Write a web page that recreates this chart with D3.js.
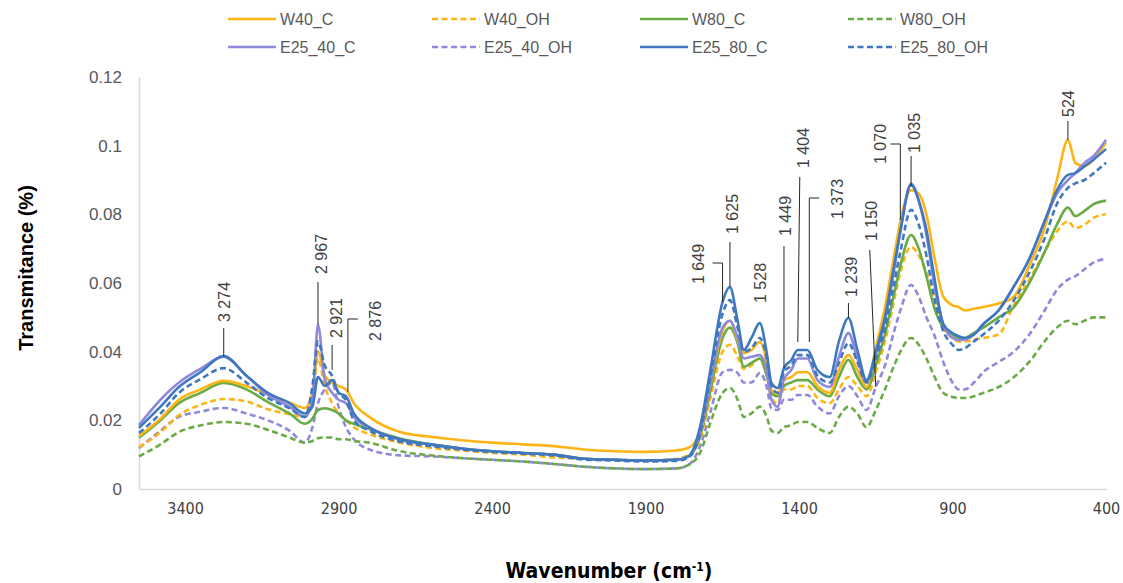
<!DOCTYPE html>
<html>
<head>
<meta charset="utf-8">
<script src="https://cdn.jsdelivr.net/npm/d3@7"></script>
<style>
  body { margin: 0; background: #fff; }
  svg { display: block; font-family: "Liberation Sans", Arial, sans-serif; }
</style>
</head>
<body>
<svg id="chart" width="1123" height="583"></svg>
<script>
// wavenumbers (cm-1) at which the spectra were read
const wavenumbers = [
  3550, 3480, 3420, 3350, 3274, 3200, 3130, 3060, 3010, 2985,
  2967, 2945, 2921, 2900, 2876, 2850, 2800, 2700, 2600, 2500,
  2400, 2300, 2200, 2100, 2000, 1900, 1800, 1760, 1720, 1690,
  1649, 1625, 1600, 1580, 1555, 1528, 1505, 1490, 1470, 1449,
  1425, 1404, 1373, 1340, 1300, 1270, 1239, 1210, 1180, 1150,
  1120, 1090, 1070, 1035, 1010, 985, 960, 930, 900, 880,
  860, 830, 800, 750, 700, 650, 600, 560, 524, 500, 470, 440, 400
];

const W40_C = [
  .0154, .0205, .0260, .0290, .0315, .0300, .0275, .0252, .0236, .0280,
  .0400, .0330, .0310, .0300, .0290, .0250, .0210, .0166, .0152, .0142,
  .0135, .0130, .0125, .0115, .0110, .0108, .0112, .0120, .0170, .0300,
  .0460, .0490, .0434, .0396, .0405, .0428, .0370, .0290, .0278, .0317,
  .0326, .0340, .0340, .0300, .0280, .0347, .0390, .0347, .0297, .0410,
  .0530, .0680, .0780, .0870, .0860, .0800, .0680, .0560, .0535, .0530,
  .0520, .0525, .0530, .0540, .0560, .0650, .0760, .0900, .1017, .0950, .0940, .0960, .1010
];
const W40_OH = [
  .0122, .0165, .0215, .0245, .0262, .0255, .0232, .0218, .0210, .0260,
  .0380, .0300, .0250, .0220, .0200, .0180, .0160, .0135, .0120, .0112,
  .0105, .0100, .0092, .0088, .0085, .0083, .0088, .0100, .0150, .0260,
  .0400, .0420, .0385, .0350, .0360, .0380, .0330, .0265, .0250, .0290,
  .0290, .0300, .0300, .0265, .0250, .0290, .0326, .0300, .0270, .0340,
  .0430, .0550, .0630, .0705, .0680, .0630, .0560, .0470, .0440, .0430,
  .0430, .0435, .0440, .0450, .0536, .0610, .0690, .0750, .0780, .0760, .0770, .0790, .0800
];
const W80_C = [
  .0149, .0200, .0250, .0280, .0309, .0290, .0253, .0220, .0190, .0205,
  .0230, .0235, .0230, .0220, .0200, .0190, .0175, .0147, .0130, .0118,
  .0110, .0105, .0100, .0088, .0085, .0083, .0085, .0095, .0160, .0280,
  .0440, .0470, .0425, .0356, .0367, .0380, .0330, .0280, .0270, .0300,
  .0310, .0317, .0317, .0290, .0270, .0326, .0376, .0326, .0290, .0360,
  .0450, .0570, .0650, .0740, .0700, .0620, .0530, .0470, .0450, .0440,
  .0440, .0455, .0470, .0500, .0530, .0600, .0690, .0770, .0820, .0795, .0810, .0830, .0840
];
const W80_OH = [
  .0095, .0130, .0166, .0185, .0195, .0190, .0172, .0150, .0135, .0140,
  .0148, .0150, .0150, .0145, .0145, .0140, .0135, .0110, .0098, .0090,
  .0085, .0080, .0073, .0065, .0060, .0058, .0060, .0070, .0110, .0190,
  .0280, .0294, .0260, .0210, .0220, .0240, .0210, .0170, .0163, .0180,
  .0186, .0195, .0195, .0178, .0163, .0210, .0240, .0220, .0180, .0230,
  .0290, .0360, .0400, .0440, .0420, .0380, .0330, .0280, .0268, .0265,
  .0265, .0270, .0280, .0297, .0326, .0370, .0430, .0470, .0490, .0480, .0490, .0500, .0500
];
const E25_40_C = [
  .0186, .0260, .0310, .0350, .0385, .0330, .0274, .0240, .0210, .0260,
  .0478, .0320, .0280, .0260, .0250, .0210, .0180, .0143, .0130, .0118,
  .0110, .0105, .0100, .0088, .0085, .0083, .0085, .0095, .0170, .0300,
  .0470, .0490, .0440, .0380, .0385, .0390, .0347, .0260, .0240, .0320,
  .0347, .0380, .0380, .0317, .0297, .0385, .0454, .0380, .0310, .0390,
  .0490, .0640, .0750, .0890, .0840, .0740, .0600, .0480, .0440, .0434,
  .0435, .0450, .0480, .0520, .0590, .0670, .0780, .0860, .0900, .0920, .0950, .0970, .1017
];
const E25_40_OH = [
  .0119, .0170, .0210, .0225, .0236, .0220, .0200, .0170, .0135, .0180,
  .0250, .0290, .0310, .0240, .0180, .0145, .0115, .0098, .0095, .0090,
  .0085, .0080, .0073, .0065, .0060, .0058, .0060, .0070, .0130, .0220,
  .0340, .0347, .0338, .0310, .0310, .0338, .0297, .0235, .0230, .0260,
  .0260, .0274, .0274, .0240, .0220, .0270, .0300, .0270, .0230, .0297,
  .0360, .0460, .0520, .0594, .0560, .0500, .0450, .0370, .0310, .0290,
  .0290, .0310, .0340, .0370, .0400, .0450, .0520, .0580, .0610, .0620, .0640, .0660, .0670
];
const E25_80_C = [
  .0178, .0240, .0297, .0340, .0387, .0330, .0280, .0250, .0220, .0240,
  .0326, .0300, .0317, .0280, .0270, .0220, .0180, .0145, .0130, .0118,
  .0110, .0105, .0100, .0088, .0085, .0083, .0085, .0095, .0190, .0340,
  .0545, .0588, .0490, .0405, .0440, .0483, .0396, .0310, .0294, .0352,
  .0376, .0405, .0405, .0347, .0326, .0430, .0498, .0405, .0317, .0400,
  .0500, .0650, .0750, .0886, .0840, .0754, .0620, .0480, .0454, .0445,
  .0440, .0450, .0480, .0520, .0590, .0670, .0780, .0870, .0915, .0920, .0940, .0960, .0990
];
const E25_80_OH = [
  .0163, .0220, .0280, .0320, .0352, .0310, .0265, .0235, .0210, .0300,
  .0430, .0360, .0330, .0280, .0260, .0200, .0170, .0138, .0125, .0115,
  .0108, .0103, .0098, .0086, .0083, .0080, .0082, .0092, .0170, .0320,
  .0510, .0550, .0470, .0400, .0410, .0440, .0380, .0300, .0280, .0340,
  .0360, .0390, .0390, .0330, .0310, .0367, .0425, .0370, .0310, .0380,
  .0470, .0600, .0690, .0813, .0770, .0680, .0560, .0460, .0420, .0405,
  .0410, .0430, .0450, .0490, .0550, .0630, .0730, .0830, .0877, .0890, .0900, .0920, .0950
];

const seriesNames = ['W40_C', 'W40_OH', 'W80_C', 'W80_OH', 'E25_40_C', 'E25_40_OH', 'E25_80_C', 'E25_80_OH'];
const seriesValues = [W40_C, W40_OH, W80_C, W80_OH, E25_40_C, E25_40_OH, E25_80_C, E25_80_OH];

const xTicks = [3400, 2900, 2400, 1900, 1400, 900, 400];
const yTicks = [0, 0.02, 0.04, 0.06, 0.08, 0.1, 0.12];

// peak labels: wavenumber, text, transmittance where the leader line ends
const peakWn = [3274, 2967, 2921, 2876, 1649, 1625, 1528, 1449, 1404, 1373, 1239, 1150, 1070, 1035, 524];
const peakText = ['3 274', '2 967', '2 921', '2 876', '1 649', '1 625', '1 528', '1 449', '1 404', '1 373', '1 239', '1 150', '1 070', '1 035', '524'];
const peakTip = [0.0387, 0.0478, 0.0347, 0.0283, 0.0545, 0.0588, null, 0.0352, 0.0428, 0.0428, 0.0498, 0.0297, 0.0784, 0.088, 0.1017];

// styling / layout (pixels)
const colors = ['#FDB515', '#FDB515', '#6AAB46', '#6AAB46', '#8E89DA', '#8E89DA', '#3F78BF', '#3F78BF'];
const dashed = [false, true, false, true, false, true, false, true];
const drawOrder = [5, 3, 1, 2, 0, 4, 7, 6];
// per label: text centre offset, text bottom y, line top y, elbow (dx of horizontal leader) and slant
const labelLayout = [
  { dx: 1,  bottom: 322, top: 328 },
  { dx: 4,  bottom: 274, top: 282 },
  { dx: 4,  bottom: 338, top: 345 },
  { dx: 30, bottom: 341, elbowY: 319, elbowDx: 10, lineDx: 2 },
  { dx: -24, bottom: 284, elbowY: 263, elbowDx: -10 },
  { dx: 3,  bottom: 234, top: 242 },
  { dx: 1,  bottom: 303 },
  { dx: 2,  bottom: 236, top: 246 },
  { dx: 6,  bottom: 168, top: 177, topDx: 2 },
  { dx: 30, bottom: 219, elbowY: 198, elbowDx: 10, lineDx: 2 },
  { dx: 3,  bottom: 297, top: 303 },
  { dx: -4, bottom: 241, top: 250, topDx: -6 },
  { dx: -20, bottom: 164, elbowY: 144, elbowDx: -10 },
  { dx: 3,  bottom: 153, top: 156 },
  { dx: 1,  bottom: 117, top: 121 }
];

const margin = { left: 139, right: 1106, top: 77, bottom: 489 };
const svg = d3.select('#chart');

const x = d3.scaleLinear().domain([3550, 400]).range([margin.left, margin.right]);
const y = d3.scaleLinear().domain([0, 0.12]).range([margin.bottom, margin.top]);

// axes
const yAxis = svg.append('g')
    .attr('transform', 'translate(' + margin.left + ',0)')
    .call(d3.axisLeft(y).tickValues(yTicks).tickSize(0).tickSizeOuter(0).tickPadding(17)
        .tickFormat(d => d === 0 ? '0' : String(+d.toFixed(2))));
yAxis.select('.domain').style('stroke', '#D9D9D9').style('stroke-width', '1.5px');
yAxis.selectAll('text')
    .style('font-family', '"Liberation Sans", Arial, sans-serif')
    .style('font-size', '17px')
    .style('fill', '#595959');

const xAxis = svg.append('g')
    .attr('transform', 'translate(0,' + margin.bottom + ')')
    .call(d3.axisBottom(x).tickValues(xTicks).tickSize(0).tickSizeOuter(0).tickPadding(14)
        .tickFormat(d3.format('d')));
xAxis.select('.domain').style('stroke', '#D9D9D9').style('stroke-width', '1.5px');
xAxis.selectAll('text')
    .style('font-family', '"DejaVu Sans Condensed", "DejaVu Sans", sans-serif')
    .style('font-stretch', 'condensed')
    .style('font-size', '16px')
    .style('fill', '#404040');

// spectra
const line = d3.line()
    .x((d, i) => x(wavenumbers[i]))
    .y(d => y(d))
    .curve(d3.curveMonotoneX);

svg.append('g')
    .selectAll('path')
    .data(drawOrder)
    .enter()
    .append('path')
    .attr('d', i => line(seriesValues[i]))
    .style('fill', 'none')
    .style('stroke', i => colors[i])
    .style('stroke-width', '2.6px')
    .style('stroke-linejoin', 'round')
    .style('stroke-dasharray', i => dashed[i] ? '6,3.5' : null);

// peak labels with leader lines
const ann = svg.append('g');
peakWn.forEach((wn, i) => {
    const L = labelLayout[i];
    const lx = x(wn) + (L.lineDx || 0);
    ann.append('text')
        .attr('transform', 'translate(' + (x(wn) + L.dx) + ',' + L.bottom + ') rotate(-90)')
        .attr('dominant-baseline', 'central')
        .text(peakText[i])
        .style('font-size', '16px')
        .style('fill', '#404040');
    if (peakTip[i] === null) return;
    let pts;
    if (L.elbowY !== undefined) {
        pts = [[lx + L.elbowDx, L.elbowY], [lx, L.elbowY], [lx, y(peakTip[i])]];
    } else {
        pts = [[lx + (L.topDx || 0), L.top], [lx, y(peakTip[i])]];
    }
    ann.append('path')
        .attr('d', d3.line()(pts))
        .style('fill', 'none')
        .style('stroke', '#262626')
        .style('stroke-width', '1px');
});

// legend
const legendX = [228, 432, 640, 848];
const legendY = [19, 47];
const legend = svg.append('g');
seriesNames.forEach((name, i) => {
    const lx = legendX[i % 4];
    const ly = legendY[Math.floor(i / 4)];
    legend.append('line')
        .attr('x1', lx).attr('x2', lx + 48)
        .attr('y1', ly).attr('y2', ly)
        .style('stroke', colors[i])
        .style('stroke-width', '2.6px')
        .style('stroke-dasharray', dashed[i] ? '6,3.5' : null);
    legend.append('text')
        .attr('x', lx + 52)
        .attr('y', ly)
        .attr('dominant-baseline', 'central')
        .text(name)
        .style('font-size', '16px')
        .style('fill', '#595959');
});

// axis titles
svg.append('text')
    .attr('transform', 'translate(26,268) rotate(-90)')
    .attr('text-anchor', 'middle')
    .attr('dominant-baseline', 'central')
    .text('Transmitance (%)')
    .style('font-size', '20px')
    .style('font-weight', 'bold')
    .style('fill', '#000');

const xt = svg.append('text')
    .attr('x', 609)
    .attr('y', 578)
    .attr('text-anchor', 'middle')
    .style('font-family', '"DejaVu Sans Condensed", "DejaVu Sans", sans-serif')
    .style('font-stretch', 'condensed')
    .style('font-weight', 'bold')
    .style('font-size', '21px')
    .style('fill', '#000');
xt.append('tspan').text('Wavenumber (cm');
xt.append('tspan').attr('dy', -7).style('font-size', '12px').text('-1');
xt.append('tspan').attr('dy', 7).text(')');
</script>
</body>
</html>
